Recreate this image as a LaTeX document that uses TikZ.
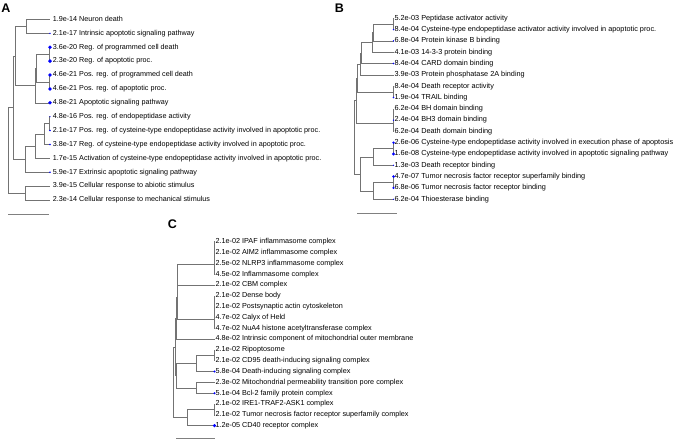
\documentclass[tikz,border=0pt]{standalone}
\usepackage{fontspec}
\setmainfont{Liberation Sans}
\usetikzlibrary{positioning}

\tikzset{
	leaf/.style={anchor=west, inner ysep=0pt, inner xsep=0.8pt,
		text height=5.2pt, text depth=1.5pt,
		font=\fontsize{7.3}{8}\selectfont},
	leafA/.style={leaf, inner xsep=2.6pt, font=\fontsize{7.2}{8}\selectfont},
	leafC/.style={leaf, font=\fontsize{7.25}{8}\selectfont},
	branch/.style={draw=black!55, line width=0.5pt},
	hit/.style={fill=blue},
	panel/.style={font=\fontsize{12.5}{14}\selectfont\bfseries},
	scalebar/.style={draw=black!50, line width=0.6pt}
}

\begin{document}
\begin{tikzpicture}[x=1pt,y=-1pt]
	\useasboundingbox (0,0) rectangle (677,442);

	\node[panel] (labA) at (6,8.5) {A};
	\node[panel] (labB) at (339.5,8.5) {B};
	\node[panel] (labC) at (172.5,224) {C};

	% panel A
	\node[leafA] (a1) at (50,19.5) {1.9e-14 Neuron death};
	\node[leafA] (a2) at (50,33.4) {2.1e-17 Intrinsic apoptotic signaling pathway};
	\node[leafA] (a3) at (50,47.3) {3.6e-20 Reg. of programmed cell death};
	\node[leafA] (a4) at (50,61.1) {2.3e-20 Reg. of apoptotic proc.};
	\node[leafA] (a5) at (50,75.0) {4.6e-21 Pos. reg. of programmed cell death};
	\node[leafA] (a6) at (50,88.9) {4.6e-21 Pos. reg. of apoptotic proc.};
	\node[leafA] (a7) at (50,102.8) {4.8e-21 Apoptotic signaling pathway};
	\node[leafA] (a8) at (50,116.7) {4.8e-16 Pos. reg. of endopeptidase activity};
	\node[leafA] (a9) at (50,130.5) {2.1e-17 Pos. reg. of cysteine-type endopeptidase activity involved in apoptotic proc.};
	\node[leafA] (a10) at (50,144.4) {3.8e-17 Reg. of cysteine-type endopeptidase activity involved in apoptotic proc.};
	\node[leafA] (a11) at (50,158.3) {1.7e-15 Activation of cysteine-type endopeptidase activity involved in apoptotic proc.};
	\node[leafA] (a12) at (50,172.2) {5.9e-17 Extrinsic apoptotic signaling pathway};
	\node[leafA] (a13) at (50,186.1) {3.9e-15 Cellular response to abiotic stimulus};
	\node[leafA] (a14) at (50,199.9) {2.3e-14 Cellular response to mechanical stimulus};

	\coordinate (ja1) at (26,26.45);
	\coordinate (ja2) at (49,54.2);
	\coordinate (ja3) at (49,81.95);
	\coordinate (ja4) at (36,68.1);
	\coordinate (ja5) at (35,85.45);
	\coordinate (ja6) at (49,123.6);
	\coordinate (ja7) at (44,134.0);
	\coordinate (ja8) at (35,146.15);
	\coordinate (ja9) at (25,159.2);
	\coordinate (ja10) at (15,55.95);
	\coordinate (ja11) at (13,107.6);
	\coordinate (ja12) at (25,193.0);
	\coordinate (ja0) at (8,150.3);

	\draw[branch] (ja1) |- (a1.west) (ja1) |- (a2.west)
		(ja2) |- (a3.west) (ja2) |- (a4.west)
		(ja3) |- (a5.west) (ja3) |- (a6.west)
		(ja4) |- (ja2) (ja4) |- (ja3)
		(ja5) |- (ja4) (ja5) |- (a7.west)
		(ja6) |- (a8.west) (ja6) |- (a9.west)
		(ja7) |- (ja6) (ja7) |- (a10.west)
		(ja8) |- (ja7) (ja8) |- (a11.west)
		(ja9) |- (ja8) (ja9) |- (a12.west)
		(ja10) |- (ja1) (ja10) |- (ja5)
		(ja11) |- (ja10) (ja11) |- (ja9)
		(ja12) |- (a13.west) (ja12) |- (a14.west)
		(ja0) |- (ja11) (ja0) |- (ja12);

	\fill[hit] (a2.west) circle (0.8) (a3.west) circle (1.9)
		(a4.west) circle (1.9) (a5.west) circle (1.9)
		(a6.west) circle (1.9) (a7.west) circle (1.9)
		(a8.west) circle (0.7) (a9.west) circle (0.9)
		(a10.west) circle (0.9) (a12.west) circle (0.9);

	\draw[scalebar] (8,214) -- (49,214);

	% panel B
	\node[leaf] (b1) at (393.5,18.3) {5.2e-03 Peptidase activator activity};
	\node[leaf] (b2) at (393.5,29.6) {8.4e-04 Cysteine-type endopeptidase activator activity involved in apoptotic proc.};
	\node[leaf] (b3) at (393.5,40.9) {6.8e-04 Protein kinase B binding};
	\node[leaf] (b4) at (393.5,52.2) {4.1e-03 14-3-3 protein binding};
	\node[leaf] (b5) at (393.5,63.5) {8.4e-04 CARD domain binding};
	\node[leaf] (b6) at (393.5,74.9) {3.9e-03 Protein phosphatase 2A binding};
	\node[leaf] (b7) at (393.5,86.2) {8.4e-04 Death receptor activity};
	\node[leaf] (b8) at (393.5,97.5) {1.9e-04 TRAIL binding};
	\node[leaf] (b9) at (393.5,108.8) {6.2e-04 BH domain binding};
	\node[leaf] (b10) at (393.5,120.1) {2.4e-04 BH3 domain binding};
	\node[leaf] (b11) at (393.5,131.4) {6.2e-04 Death domain binding};
	\node[leaf] (b12) at (393.5,142.7) {2.6e-06 Cysteine-type endopeptidase activity involved in execution phase of apoptosis};
	\node[leaf] (b13) at (393.5,154.0) {1.6e-08 Cysteine-type endopeptidase activity involved in apoptotic signaling pathway};
	\node[leaf] (b14) at (393.5,165.3) {1.3e-03 Death receptor binding};
	\node[leaf] (b15) at (393.5,176.6) {4.7e-07 Tumor necrosis factor receptor superfamily binding};
	\node[leaf] (b16) at (393.5,187.9) {6.8e-06 Tumor necrosis factor receptor binding};
	\node[leaf] (b17) at (393.5,199.3) {6.2e-04 Thioesterase binding};

	\coordinate (jb1) at (392.8,23.95);
	\coordinate (jb2) at (373,32.4);
	\coordinate (jb3) at (372,42.3);
	\coordinate (jb4) at (361.5,52.9);
	\coordinate (jb5) at (360.7,63.9);
	\coordinate (jb6) at (392.8,91.85);
	\coordinate (jb7a) at (392.8,114.45);
	\coordinate (jb7) at (392.8,122.9);
	\coordinate (jb8) at (357,77.9);
	\coordinate (jb9) at (356,100.4);
	\coordinate (jb10) at (392.8,148.35);
	\coordinate (jb11) at (373,156.8);
	\coordinate (jb12) at (392.8,182.25);
	\coordinate (jb13) at (373,190.8);
	\coordinate (jb14) at (360,173.8);
	\coordinate (jb0) at (354,137.1);

	\draw[branch] (jb1) |- (b1.west) (jb1) |- (b2.west)
		(jb2) |- (jb1) (jb2) |- (b3.west)
		(jb3) |- (jb2) (jb3) |- (b4.west)
		(jb4) |- (jb3) (jb4) |- (b5.west)
		(jb5) |- (jb4) (jb5) |- (b6.west)
		(jb6) |- (b7.west) (jb6) |- (b8.west)
		(jb7a) |- (b9.west) (jb7a) |- (b10.west)
		(jb7) |- (jb7a) (jb7) |- (b11.west)
		(jb8) |- (jb5) (jb8) |- (jb6)
		(jb9) |- (jb8) (jb9) |- (jb7)
		(jb10) |- (b12.west) (jb10) |- (b13.west)
		(jb11) |- (jb10) (jb11) |- (b14.west)
		(jb12) |- (b15.west) (jb12) |- (b16.west)
		(jb13) |- (jb12) (jb13) |- (b17.west)
		(jb14) |- (jb11) (jb14) |- (jb13)
		(jb0) |- (jb9) (jb0) |- (jb14);

	\fill[hit] (b2.west) circle (0.8) (b3.west) circle (0.8)
		(b5.west) circle (0.8) (b8.west) circle (0.8)
		(b10.west) circle (0.8) (b12.west) circle (1.3)
		(b13.west) circle (1.7) (b14.west) circle (0.7)
		(b15.west) circle (1.4) (b16.west) circle (1.2)
		(b17.west) circle (0.7);

	\draw[scalebar] (357,213) -- (397,213);

	% panel C
	\node[leafC] (c1) at (214.5,241.7) {2.1e-02 IPAF inflammasome complex};
	\node[leafC] (c2) at (214.5,252.5) {2.1e-02 AIM2 inflammasome complex};
	\node[leafC] (c3) at (214.5,263.3) {2.5e-02 NLRP3 inflammasome complex};
	\node[leafC] (c4) at (214.5,274.2) {4.5e-02 Inflammasome complex};
	\node[leafC] (c5) at (214.5,285.0) {2.1e-02 CBM complex};
	\node[leafC] (c6) at (214.5,295.8) {2.1e-02 Dense body};
	\node[leafC] (c7) at (214.5,306.6) {2.1e-02 Postsynaptic actin cytoskeleton};
	\node[leafC] (c8) at (214.5,317.4) {4.7e-02 Calyx of Held};
	\node[leafC] (c9) at (214.5,328.3) {4.7e-02 NuA4 histone acetyltransferase complex};
	\node[leafC] (c10) at (214.5,339.1) {4.8e-02 Intrinsic component of mitochondrial outer membrane};
	\node[leafC] (c11) at (214.5,349.9) {2.1e-02 Ripoptosome};
	\node[leafC] (c12) at (214.5,360.7) {2.1e-02 CD95 death-inducing signaling complex};
	\node[leafC] (c13) at (214.5,371.5) {5.8e-04 Death-inducing signaling complex};
	\node[leafC] (c14) at (214.5,382.4) {2.3e-02 Mitochondrial permeability transition pore complex};
	\node[leafC] (c15) at (214.5,393.2) {5.1e-04 Bcl-2 family protein complex};
	\node[leafC] (c16) at (214.5,404.0) {2.1e-02 IRE1-TRAF2-ASK1 complex};
	\node[leafC] (c17) at (214.5,414.8) {2.1e-02 Tumor necrosis factor receptor superfamily complex};
	\node[leafC] (c18) at (214.5,425.6) {1.2e-05 CD40 receptor complex};

	\coordinate (jc1a) at (213.8,247.1);
	\coordinate (jc1b) at (213.8,255.2);
	\coordinate (jc1) at (213.8,264.7);
	\coordinate (jc2) at (177.5,274.85);
	\coordinate (jc3a) at (213.8,301.2);
	\coordinate (jc3b) at (213.8,309.3);
	\coordinate (jc3) at (213.8,318.8);
	\coordinate (jc4) at (177,296.8);
	\coordinate (jc5) at (176.5,317.95);
	\coordinate (jc6) at (213.8,355.3);
	\coordinate (jc7) at (196.7,363.4);
	\coordinate (jc8) at (196.7,387.8);
	\coordinate (jc9) at (176,375.6);
	\coordinate (jc10) at (175,346.8);
	\coordinate (jc11) at (213.8,409.4);
	\coordinate (jc12) at (187,417.5);
	\coordinate (jc0) at (173.5,382.1);

	\draw[branch] (jc1a) |- (c1.west) (jc1a) |- (c2.west)
		(jc1b) |- (jc1a) (jc1b) |- (c3.west)
		(jc1) |- (jc1b) (jc1) |- (c4.west)
		(jc2) |- (jc1) (jc2) |- (c5.west)
		(jc3a) |- (c6.west) (jc3a) |- (c7.west)
		(jc3b) |- (jc3a) (jc3b) |- (c8.west)
		(jc3) |- (jc3b) (jc3) |- (c9.west)
		(jc4) |- (jc2) (jc4) |- (jc3)
		(jc5) |- (jc4) (jc5) |- (c10.west)
		(jc6) |- (c11.west) (jc6) |- (c12.west)
		(jc7) |- (jc6) (jc7) |- (c13.west)
		(jc8) |- (c14.west) (jc8) |- (c15.west)
		(jc9) |- (jc7) (jc9) |- (jc8)
		(jc10) |- (jc5) (jc10) |- (jc9)
		(jc11) |- (c16.west) (jc11) |- (c17.west)
		(jc12) |- (jc11) (jc12) |- (c18.west)
		(jc0) |- (jc10) (jc0) |- (jc12);

	\fill[hit] (c13.west) circle (1.2) (c15.west) circle (1.1)
		(c18.west) circle (1.8);

	\draw[scalebar] (176,438) -- (215,438);
\end{tikzpicture}
\end{document}
